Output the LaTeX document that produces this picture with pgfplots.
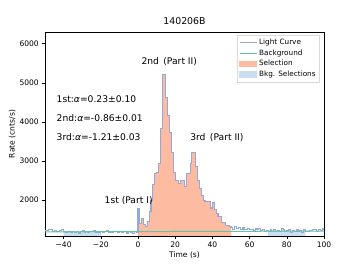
\documentclass[border=0pt]{standalone}
\usepackage{fontspec}
\setmainfont{DejaVu Sans}
\usepackage{pgfplots}
\usepackage{pgfplotstable}
\pgfplotsset{compat=1.18}
\definecolor{lcc}{HTML}{98A8D4}
\definecolor{bgc}{HTML}{66C2A5}
\definecolor{selc}{HTML}{FDBBA1}
\definecolor{bkc}{HTML}{C9DEEE}
\pgfplotstableread{
t rate
-50 1230
-49 1220
-48 1250
-47 1240
-46 1210
-45 1230
-44 1200
-43 1190
-42 1220
-41 1240
-40 1200
-39 1180
-38 1210
-37 1190
-36 1170
-35 1200
-34 1180
-33 1210
-32 1160
-31 1190
-30 1220
-29 1180
-28 1200
-27 1170
-26 1210
-25 1190
-24 1220
-23 1180
-22 1200
-21 1170
-20 1210
-19 1180
-18 1190
-17 1220
-16 1170
-15 1200
-14 1180
-13 1210
-12 1190
-11 1170
-10 1200
-9 1180
-8 1210
-7 1190
-6 1160
-5 1200
-4 1180
-3 1150
-2 1190
-1 1170
0 1790
1 1400
2 1540
3 1380
4 1320
5 1450
6 1700
7 2000
8 2400
9 2690
10 2700
11 2940
12 3830
13 5220
14 5220
15 4620
16 4160
17 3730
18 3220
19 2710
20 2500
21 2500
22 2430
23 2510
24 2510
25 2340
26 2690
27 2690
28 2940
29 3230
30 3230
31 2850
32 2510
33 2300
34 2130
35 2000
36 1960
37 1960
38 1960
39 1800
40 1930
41 1770
42 1660
43 1580
44 1580
45 1440
46 1440
47 1360
48 1360
49 1320
50 1300
51 1250
52 1330
53 1270
54 1290
55 1240
56 1300
57 1260
58 1250
59 1280
60 1240
61 1260
62 1230
63 1270
64 1250
65 1280
66 1220
67 1250
68 1190
69 1230
70 1200
71 1240
72 1210
73 1260
74 1200
75 1230
76 1190
77 1270
78 1250
79 1200
80 1220
81 1240
82 1180
83 1230
84 1210
85 1250
86 1190
87 1220
88 1180
89 1240
90 1210
91 1200
92 1230
93 1220
94 1250
95 1240
96 1210
97 1260
98 1230
99 1270
100 1250
}\lc
\begin{document}
\begin{tikzpicture}[x=1bp,y=1bp]
\useasboundingbox (0,0) rectangle (360,270);
\begin{axis}[
  at={(45bp,34bp)}, anchor=south west,
  scale only axis, width=279bp, height=204bp,
  xmin=-50, xmax=100, ymin=1084, ymax=6300,
  xtick={-40,-20,0,20,40,60,80,100},
  xticklabels={−40,−20,0,20,40,60,80,100},
  ytick={2000,3000,4000,5000,6000},
  yticklabel style={/pgf/number format/.cd,1000 sep={},assume math mode=true},
  scaled y ticks=false,
  tick align=outside, tick pos=left,
  major tick length=2.7bp,
  tick style={black, line width=0.6bp},
  ticklabel style={font=\fontsize{7.6}{8}\selectfont},
  axis line style={line width=0.6bp},
  title={140206B}, title style={font=\fontsize{9.4}{10}\selectfont, yshift=-2bp},
  xlabel={Time (s)}, ylabel={Rate (cnts/s)},
  label style={font=\fontsize{7.6}{8}\selectfont},
  xlabel style={yshift=3bp},
  ylabel style={yshift=-3bp},
  legend style={at={(rel axis cs:0.985,0.985)}, anchor=north east,
    font=\fontsize{7.3}{8}\selectfont, draw=black!15,
    row sep=-0.5bp, inner sep=2bp, cells={anchor=west}},
  legend cell align=left,
]
\addlegendimage{draw=lcc, line width=1bp}
\addlegendentry{Light Curve}
\addlegendimage{draw=bgc, line width=1bp}
\addlegendentry{Background}
\addlegendimage{area legend, fill=selc, draw=selc}
\addlegendentry{Selection}
\addlegendimage{area legend, fill=bkc, draw=bkc}
\addlegendentry{Bkg. Selections}
\addplot[forget plot, const plot mark left, fill=selc, draw=none, restrict x to domain=0:50] table[x=t,y=rate]{\lc} \closedcycle;
\addplot[forget plot, const plot mark left, fill=bkc, draw=none, restrict x to domain=-40:-20] table[x=t,y=rate]{\lc} \closedcycle;
\addplot[forget plot, const plot mark left, fill=bkc, draw=none, restrict x to domain=70:90] table[x=t,y=rate]{\lc} \closedcycle;
\addplot[forget plot, const plot mark left, lcc, line width=1.1bp] table[x=t,y=rate]{\lc};
\addplot[forget plot, bgc, line width=1bp] coordinates {(-50,1190) (100,1210)};
\node[anchor=west, font=\fontsize{9.2}{10}\selectfont] at (axis cs:0,5540) {2nd\, (Part II)};
\node[anchor=west, font=\fontsize{9.2}{10}\selectfont] at (axis cs:-19.8,2000) {1st (Part I)};
\node[anchor=west, font=\fontsize{9.2}{10}\selectfont] at (axis cs:26.2,3603) {3rd\, (Part II)};
\node[anchor=west, font=\fontsize{9.2}{10}\selectfont] at (axis cs:-45.6,4570) {1st:\textit{α}=0.23±0.10};
\node[anchor=west, font=\fontsize{9.2}{10}\selectfont] at (axis cs:-45.6,4087) {2nd:\textit{α}=-0.86±0.01};
\node[anchor=west, font=\fontsize{9.2}{10}\selectfont] at (axis cs:-45.6,3603) {3rd:\textit{α}=-1.21±0.03};
\end{axis}
\end{tikzpicture}
\end{document}
